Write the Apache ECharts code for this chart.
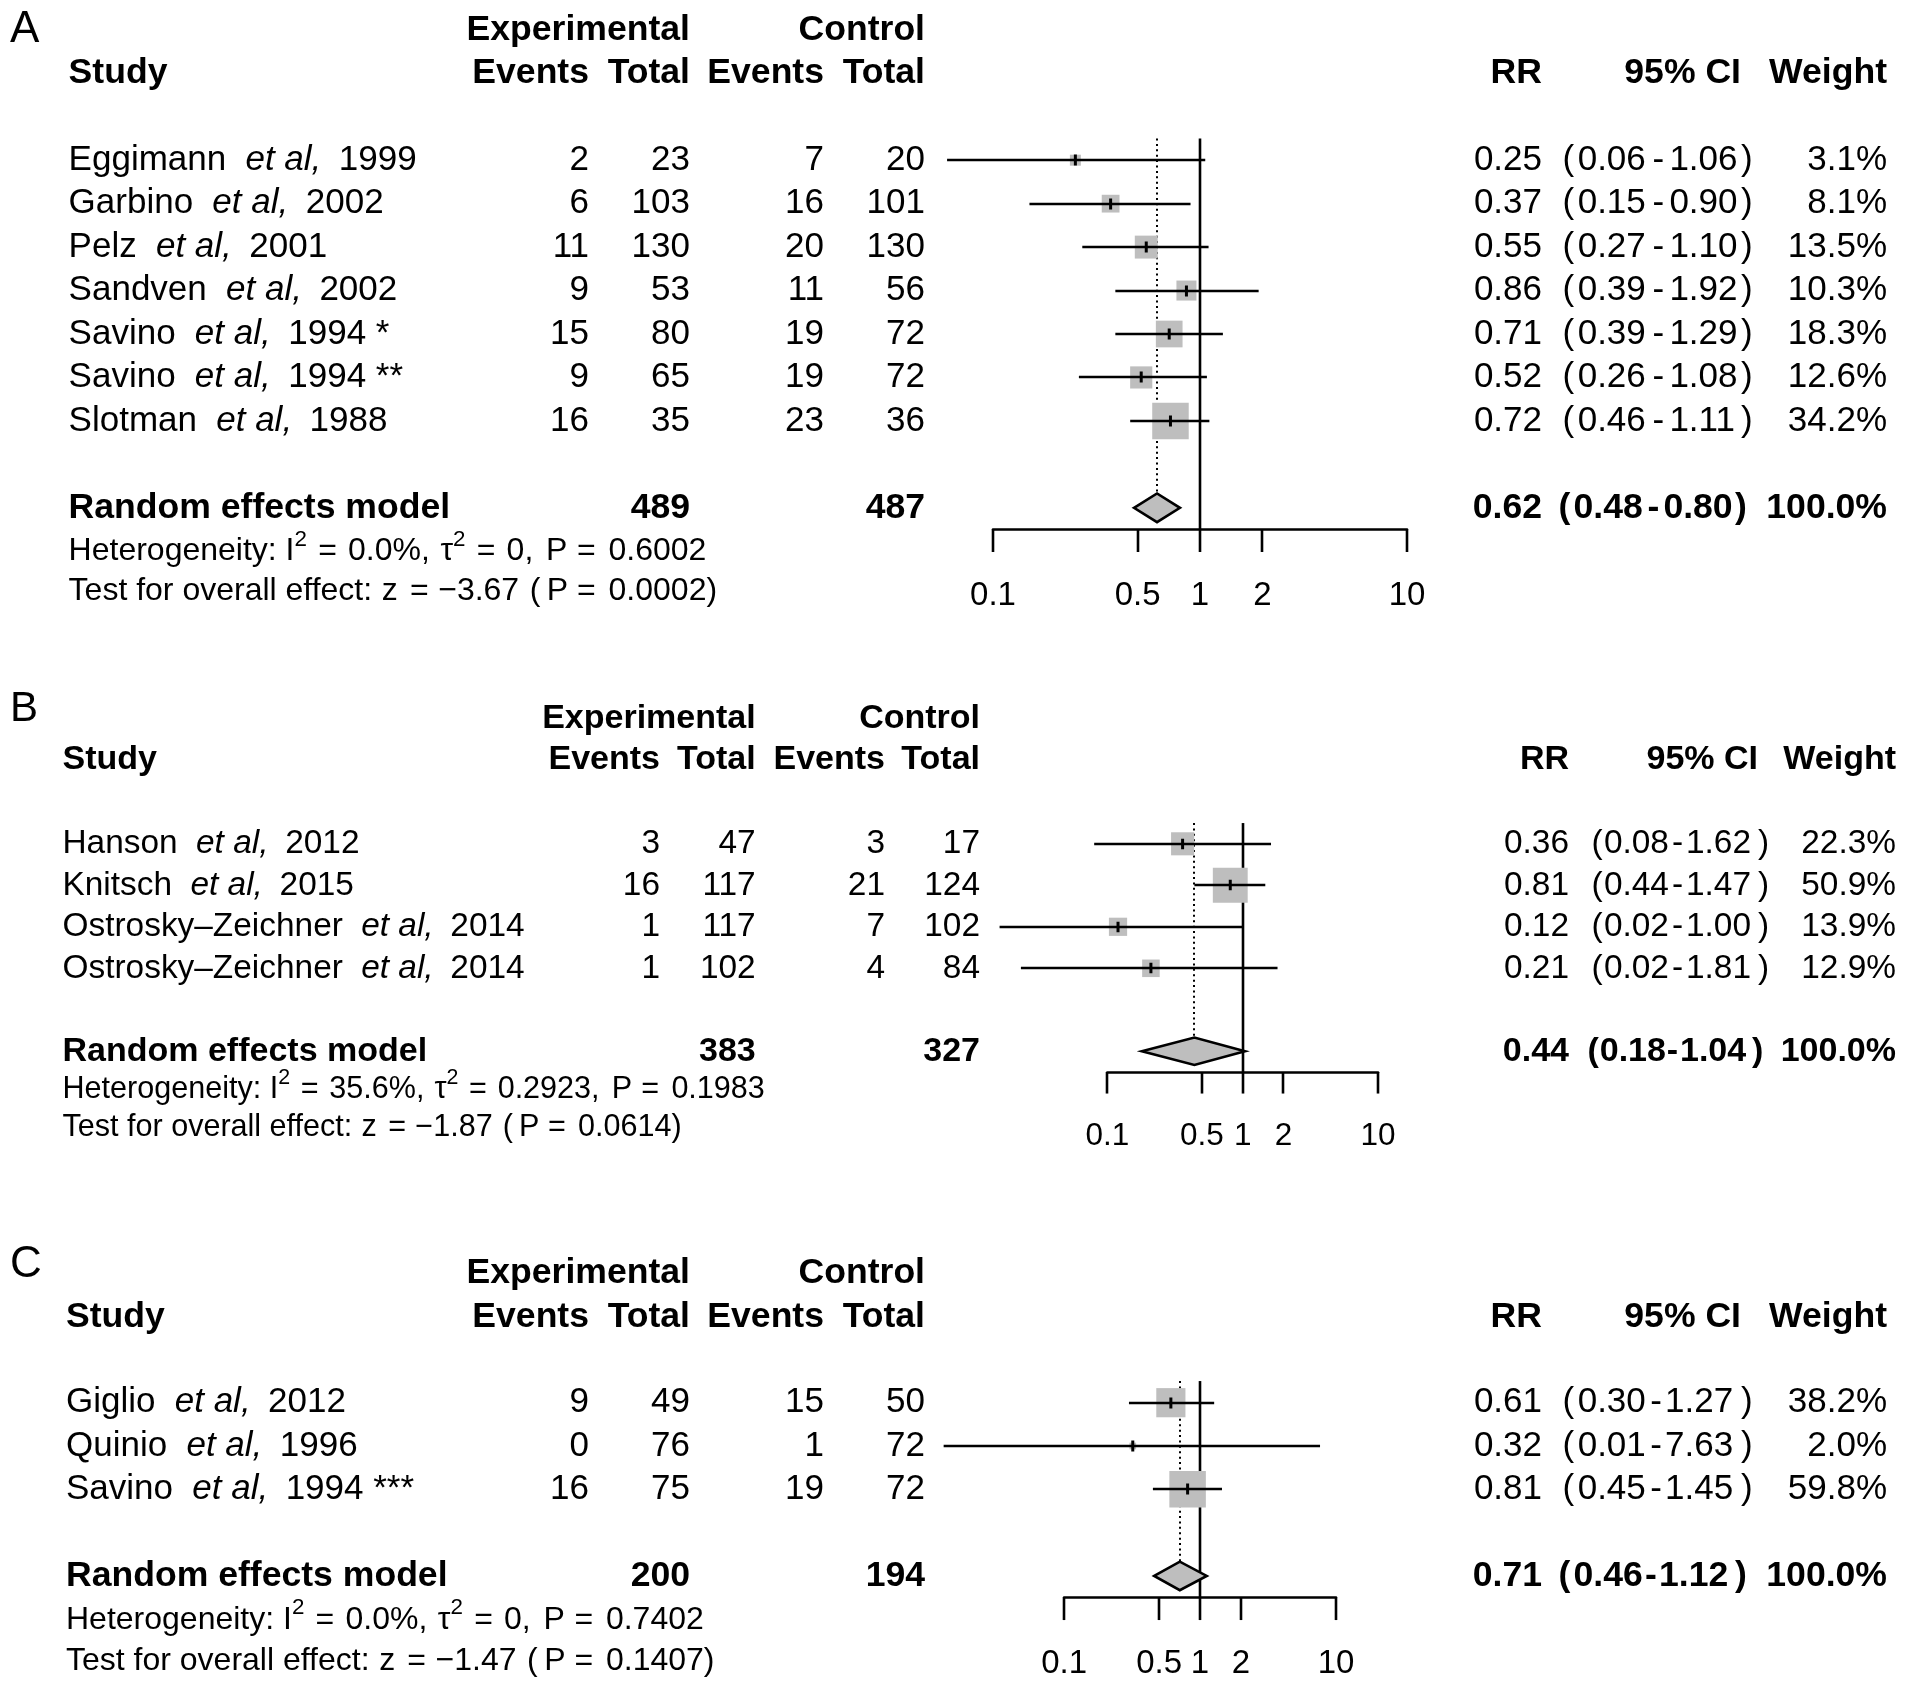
<!DOCTYPE html>
<html>
<head>
<meta charset="utf-8">
<script src="https://cdn.jsdelivr.net/npm/echarts@6.0.0/dist/echarts.min.js"></script>
<style>html,body{margin:0;padding:0;background:#fff}#chart{width:1913px;height:1695px}</style>
</head>
<body>
<div id="chart"></div>
<script>
// ---------------- DATA ----------------
const panelLetters = ['A', 'B', 'C'];
const tickValues = [0.1, 0.5, 1, 2, 10];
const tickLabels = ['0.1', '0.5', '1', '2', '10'];

// Panel A
const studiesA = ['Eggimann', 'Garbino', 'Pelz', 'Sandven', 'Savino', 'Savino', 'Slotman'];
const yearsA = ['1999', '2002', '2001', '2002', '1994 *', '1994 **', '1988'];
const expEventsA = [2, 6, 11, 9, 15, 9, 16];
const expTotalA = [23, 103, 130, 53, 80, 65, 35];
const ctrlEventsA = [7, 16, 20, 11, 19, 19, 23];
const ctrlTotalA = [20, 101, 130, 56, 72, 72, 36];
const rrA = [0.25, 0.37, 0.55, 0.86, 0.71, 0.52, 0.72];
const lowerA = [0.06, 0.15, 0.27, 0.39, 0.39, 0.26, 0.46];
const upperA = [1.06, 0.90, 1.10, 1.92, 1.29, 1.08, 1.11];
const weightA = [3.1, 8.1, 13.5, 10.3, 18.3, 12.6, 34.2];
const pooledA = [0.62, 0.48, 0.80];
const totalsA = [489, 487];
const hetA = ['0.0%', '0', '0.6002'];
const testA = ['\u22123.67', '0.0002'];

// Panel B
const studiesB = ['Hanson', 'Knitsch', 'Ostrosky\u2013Zeichner', 'Ostrosky\u2013Zeichner'];
const yearsB = ['2012', '2015', '2014', '2014'];
const expEventsB = [3, 16, 1, 1];
const expTotalB = [47, 117, 117, 102];
const ctrlEventsB = [3, 21, 7, 4];
const ctrlTotalB = [17, 124, 102, 84];
const rrB = [0.36, 0.81, 0.12, 0.21];
const lowerB = [0.08, 0.44, 0.016, 0.023];
const upperB = [1.62, 1.47, 1.00, 1.81];
const weightB = [22.3, 50.9, 13.9, 12.9];
const pooledB = [0.44, 0.18, 1.04];
const totalsB = [383, 327];
const hetB = ['35.6%', '0.2923', '0.1983'];
const testB = ['\u22121.87', '0.0614'];

// Panel C
const studiesC = ['Giglio', 'Quinio', 'Savino'];
const yearsC = ['2012', '1996', '1994 ***'];
const expEventsC = [9, 0, 16];
const expTotalC = [49, 76, 75];
const ctrlEventsC = [15, 1, 19];
const ctrlTotalC = [50, 72, 72];
const rrC = [0.61, 0.32, 0.81];
const lowerC = [0.30, 0.013, 0.45];
const upperC = [1.27, 7.63, 1.45];
const weightC = [38.2, 2.0, 59.8];
const pooledC = [0.71, 0.46, 1.12];
const totalsC = [200, 194];
const hetC = ['0.0%', '0', '0.7402'];
const testC = ['\u22121.47', '0.1407'];

// ---------------- LAYOUT ----------------
const layouts = [
  {s: 1, top0: 160.2, rowH: 43.45, axL: 993, axR: 1407, letterY: 29.7, h1Y: 29.7, h2Y: 73, hetY: 551.6, testY: 591, tickLY: 596,
   studyX: 68.6, expEvR: 589, expTotR: 690, ctrlEvR: 824, ctrlTotR: 925, rrR: 1542, ciOpen: 1562.6, ciLowR: 1645.8, ciDashC: 1658.4, ciUpL: 1669.4, ciClose: 1741, wR: 1887},
  {s: 0.955, top0: 843.8, rowH: 41.5, axL: 1107.3, axR: 1378, letterY: 709.7, h1Y: 718.2, h2Y: 760, hetY: 1090, testY: 1128, tickLY: 1136.6,
   studyX: 62.5, expEvR: 660, expTotR: 755.7, ctrlEvR: 885, ctrlTotR: 980, rrR: 1569, ciOpen: 1591.5, ciLowR: 1668.9, ciDashC: 1677.5, ciUpL: 1686, ciClose: 1758, wR: 1896},
  {s: 1, top0: 1402.7, rowH: 43.3, axL: 1064.1, axR: 1336, letterY: 1265, h1Y: 1273.3, h2Y: 1317.3, hetY: 1620, testY: 1660.7, tickLY: 1664,
   studyX: 66, expEvR: 589, expTotR: 690, ctrlEvR: 824, ctrlTotR: 925, rrR: 1542, ciOpen: 1562.6, ciLowR: 1645.8, ciDashC: 1656, ciUpL: 1665, ciClose: 1741, wR: 1887}
];

const panels = [
  {studies: studiesA, years: yearsA, expEv: expEventsA, expTot: expTotalA, ctrlEv: ctrlEventsA, ctrlTot: ctrlTotalA,
   rr: rrA, lo: lowerA, hi: upperA, w: weightA, pooled: pooledA, totals: totalsA, het: hetA, test: testA},
  {studies: studiesB, years: yearsB, expEv: expEventsB, expTot: expTotalB, ctrlEv: ctrlEventsB, ctrlTot: ctrlTotalB,
   rr: rrB, lo: lowerB, hi: upperB, w: weightB, pooled: pooledB, totals: totalsB, het: hetB, test: testB},
  {studies: studiesC, years: yearsC, expEv: expEventsC, expTot: expTotalC, ctrlEv: ctrlEventsC, ctrlTot: ctrlTotalC,
   rr: rrC, lo: lowerC, hi: upperC, w: weightC, pooled: pooledC, totals: totalsC, het: hetC, test: testC}
];

// ---------------- TEXT HELPERS ----------------
const FONT = "'Liberation Sans', Arial, Helvetica, sans-serif";
const mctx = document.createElement('canvas').getContext('2d');
function fontStr(size, bold, italic) {
  return (italic ? 'italic ' : 'normal ') + (bold ? 'bold ' : 'normal ') + size.toFixed(2) + 'px ' + FONT;
}
function textW(t, size, bold, italic) {
  mctx.font = fontStr(size, bold, italic);
  return mctx.measureText(t).width;
}
const graphics = [];
function addText(t, x, y, size, o) {
  o = o || {};
  const w = textW(t, size, o.bold, o.italic);
  let left = x;
  if (o.align === 'right') left = x - w;
  else if (o.align === 'center') left = x - w / 2;
  graphics.push({
    type: 'text', x: left, y: y, silent: true,
    style: {text: t, fill: '#000', font: fontStr(size, o.bold, o.italic),
            textAlign: 'left', textVerticalAlign: 'middle', align: 'left', verticalAlign: 'middle'}
  });
  return w;
}
function addRun(parts, x, y, size) {
  let cx = x;
  parts.forEach(p => {
    if (p.gap) { cx += p.gap * size; return; }
    const sz = p.sup ? size * 0.7 : size;
    const yy = p.sup ? y - size * 0.38 : y;
    cx += addText(p.t, cx, yy, sz, p);
  });
}
const snap = v => Math.round(v);

// ---------------- BUILD ----------------
const grids = [], xAxes = [], yAxes = [], series = [];
const LW = 2.6;

panels.forEach((P, i) => {
  const L = layouts[i];
  const s = L.s;
  const f = 35 * s, bf = 35.6 * s, hf = 32 * s, tf = 33 * s;
  const n = P.studies.length;
  const poolRow = n + 1;
  const rowY = r => L.top0 + r * L.rowH;

  // ---- grid / axes ----
  grids.push({left: L.axL, width: L.axR - L.axL, top: L.top0 - 0.5 * L.rowH, height: (poolRow + 1) * L.rowH});
  xAxes.push({type: 'log', logBase: 10, min: 0.1, max: 10, gridIndex: i, position: 'bottom',
    axisLine: {show: true, onZero: false, lineStyle: {color: '#000', width: LW}},
    axisTick: {show: false}, axisLabel: {show: false}, splitLine: {show: false}});
  yAxes.push({type: 'value', gridIndex: i, inverse: true, min: -0.5, max: poolRow + 0.5, show: false});

  // ---- reference lines (no effect at 1, pooled dotted) ----
  series.push({
    type: 'custom', xAxisIndex: i, yAxisIndex: i, z: 2, clip: false, silent: true,
    encode: {x: 0, y: 1},
    data: [[1, 0]],
    renderItem: (params, api) => {
      const a = api.coord([api.value(0), -0.5]);
      const b = api.coord([api.value(0), poolRow + 0.5]);
      return {type: 'line', shape: {x1: snap(a[0]), y1: a[1], x2: snap(b[0]), y2: b[1]}, style: {stroke: '#000', lineWidth: LW}};
    }
  });
  series.push({
    type: 'custom', xAxisIndex: i, yAxisIndex: i, z: 2, clip: false, silent: true,
    encode: {x: 0, y: 1},
    data: [[P.pooled[0], poolRow]],
    renderItem: (params, api) => {
      const a = api.coord([api.value(0), -0.5]);
      const b = api.coord([api.value(0), api.value(1)]);
      const h = 0.33 * L.rowH;
      return {type: 'line', shape: {x1: snap(a[0]), y1: a[1], x2: snap(b[0]), y2: b[1] - h},
              style: {stroke: '#000', lineWidth: 2, lineDash: [2, 3.4]}};
    }
  });

  // ---- studies ----
  const wmax = Math.max.apply(null, P.w);
  series.push({
    type: 'custom', xAxisIndex: i, yAxisIndex: i, z: 3, clip: false, silent: true,
    encode: {x: 0, y: 3},
    data: P.rr.map((v, k) => [v, P.lo[k], P.hi[k], k, P.w[k]]),
    renderItem: (params, api) => {
      const row = api.value(3);
      const p = api.coord([api.value(0), row]);
      const pl = api.coord([api.value(1), row]);
      const ph = api.coord([api.value(2), row]);
      const side = 36.5 * s * Math.sqrt(api.value(4) / wmax);
      const th = 11 * s;
      const y = snap(p[1]);
      return {type: 'group', children: [
        {type: 'rect', shape: {x: p[0] - side / 2, y: p[1] - side / 2, width: side, height: side}, style: {fill: '#bebebe'}},
        {type: 'line', shape: {x1: pl[0], y1: y, x2: ph[0], y2: y}, style: {stroke: '#000', lineWidth: LW}},
        {type: 'line', shape: {x1: p[0], y1: y - th / 2, x2: p[0], y2: y + th / 2}, style: {stroke: '#000', lineWidth: 3}}
      ]};
    }
  });

  // ---- pooled diamond ----
  series.push({
    type: 'custom', xAxisIndex: i, yAxisIndex: i, z: 4, clip: false, silent: true,
    encode: {x: 0, y: 3},
    data: [[P.pooled[0], P.pooled[1], P.pooled[2], poolRow]],
    renderItem: (params, api) => {
      const row = api.value(3);
      const c = api.coord([api.value(0), row]);
      const l = api.coord([api.value(1), row]);
      const r = api.coord([api.value(2), row]);
      const h = 0.33 * L.rowH;
      return {type: 'polygon', shape: {points: [[l[0], c[1]], [c[0], c[1] - h], [r[0], c[1]], [c[0], c[1] + h]]},
              style: {fill: '#bebebe', stroke: '#000', lineWidth: 2.6, lineJoin: 'miter'}};
    }
  });

  // ---- axis ticks and labels ----
  series.push({
    type: 'custom', xAxisIndex: i, yAxisIndex: i, z: 4, clip: false, silent: true,
    encode: {x: 0, y: 1},
    data: tickValues.map((v, k) => [v, k]),
    renderItem: (params, api) => {
      const p = api.coord([api.value(0), poolRow + 0.5]);
      const lab = tickLabels[api.value(1)];
      const w = textW(lab, tf, false, false);
      return {type: 'group', children: [
        {type: 'line', shape: {x1: snap(p[0]), y1: p[1], x2: snap(p[0]), y2: p[1] + 22.5 * s}, style: {stroke: '#000', lineWidth: LW}},
        {type: 'text', x: p[0] - w / 2, y: L.tickLY,
         style: {text: lab, fill: '#000', font: fontStr(tf, false, false), textAlign: 'left', textVerticalAlign: 'middle', align: 'left', verticalAlign: 'middle'}}
      ]};
    }
  });

  // ---- table text ----
  addText(panelLetters[i], 10, L.letterY, 44 * s);
  addText('Experimental', L.expTotR, L.h1Y, bf, {bold: true, align: 'right'});
  addText('Control', L.ctrlTotR, L.h1Y, bf, {bold: true, align: 'right'});
  addText('Study', L.studyX, L.h2Y, bf, {bold: true});
  addText('Events', L.expEvR, L.h2Y, bf, {bold: true, align: 'right'});
  addText('Total', L.expTotR, L.h2Y, bf, {bold: true, align: 'right'});
  addText('Events', L.ctrlEvR, L.h2Y, bf, {bold: true, align: 'right'});
  addText('Total', L.ctrlTotR, L.h2Y, bf, {bold: true, align: 'right'});
  addText('RR', L.rrR, L.h2Y, bf, {bold: true, align: 'right'});
  addText('95% CI', L.ciClose, L.h2Y, bf, {bold: true, align: 'right'});
  addText('Weight', L.wR, L.h2Y, bf, {bold: true, align: 'right'});

  function ciText(y, lo, hi, bold) {
    const sz = bold ? bf : f;
    addText('(', L.ciOpen - (bold ? 4 : 0), y, sz, {bold: bold});
    addText(lo.toFixed(2), L.ciLowR - (bold ? 3 : 0), y, sz, {bold: bold, align: 'right'});
    addText('-', L.ciDashC - (bold ? 5 : 0), y, sz, {bold: bold, align: 'center'});
    addText(hi.toFixed(2), L.ciUpL - (bold ? 6 : 0), y, sz, {bold: bold});
    addText(')', L.ciClose - (bold ? 6 : 0), y, sz, {bold: bold});
  }

  for (let k = 0; k < n; k++) {
    const y = rowY(k);
    addRun([{t: P.studies[k]}, {gap: 0.55}, {t: 'et al,', italic: true}, {gap: 0.5}, {t: P.years[k]}], L.studyX, y, f);
    addText(String(P.expEv[k]), L.expEvR, y, f, {align: 'right'});
    addText(String(P.expTot[k]), L.expTotR, y, f, {align: 'right'});
    addText(String(P.ctrlEv[k]), L.ctrlEvR, y, f, {align: 'right'});
    addText(String(P.ctrlTot[k]), L.ctrlTotR, y, f, {align: 'right'});
    addText(P.rr[k].toFixed(2), L.rrR, y, f, {align: 'right'});
    ciText(y, P.lo[k], P.hi[k], false);
    addText(P.w[k].toFixed(1) + '%', L.wR, y, f, {align: 'right'});
  }
  const py = rowY(poolRow);
  addText('Random effects model', L.studyX, py, bf, {bold: true});
  addText(String(P.totals[0]), L.expTotR, py, bf, {bold: true, align: 'right'});
  addText(String(P.totals[1]), L.ctrlTotR, py, bf, {bold: true, align: 'right'});
  addText(P.pooled[0].toFixed(2), L.rrR, py, bf, {bold: true, align: 'right'});
  ciText(py, P.pooled[1], P.pooled[2], true);
  addText('100.0%', L.wR, py, bf, {bold: true, align: 'right'});

  addRun([{t: 'Heterogeneity: I'}, {t: '2', sup: true}, {gap: 0.35}, {t: '='}, {gap: 0.35}, {t: P.het[0] + ','}, {gap: 0.33},
          {t: '\u03c4'}, {t: '2', sup: true}, {gap: 0.35}, {t: '='}, {gap: 0.35}, {t: P.het[1] + ','}, {gap: 0.4},
          {t: 'P'}, {gap: 0.3}, {t: '='}, {gap: 0.4}, {t: P.het[2]}], L.studyX, L.hetY, hf);
  addRun([{t: 'Test for overall effect:'}, {gap: 0.3}, {t: 'z'}, {gap: 0.38}, {t: '='}, {gap: 0.3}, {t: P.test[0]},
          {gap: 0.33}, {t: '('}, {gap: 0.2}, {t: 'P'}, {gap: 0.28}, {t: '='}, {gap: 0.4}, {t: P.test[1] + ')'}], L.studyX, L.testY, hf);
});

const chart = echarts.init(document.getElementById('chart'), null, {renderer: 'canvas', width: 1913, height: 1695});
chart.setOption({
  animation: false,
  backgroundColor: '#ffffff',
  grid: grids,
  xAxis: xAxes,
  yAxis: yAxes,
  series: series,
  graphic: {elements: graphics}
});
</script>
</body>
</html>
